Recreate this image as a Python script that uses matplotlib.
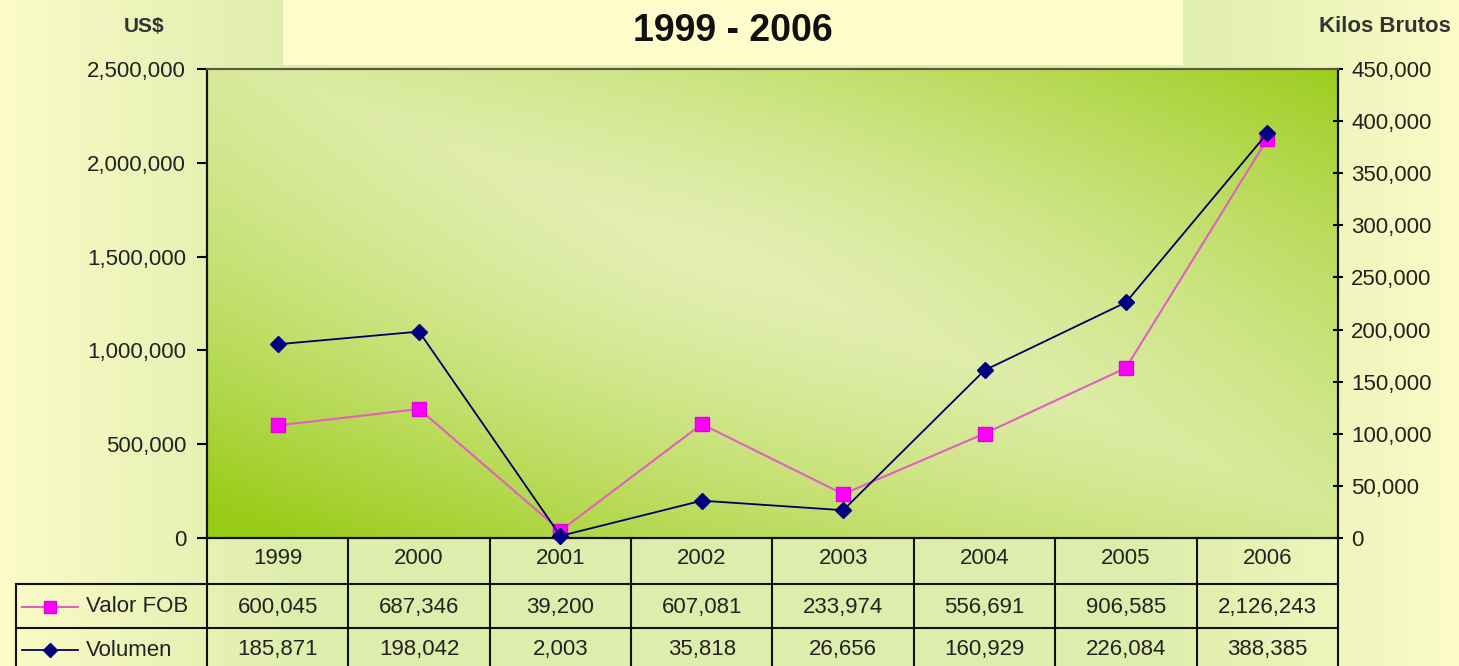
import numpy as np
import matplotlib
matplotlib.use('Agg')
import matplotlib.pyplot as plt
from matplotlib.lines import Line2D
from matplotlib.patches import Rectangle
import matplotlib.transforms as mtransforms
from matplotlib.ticker import FuncFormatter, FixedLocator

# ---- data ----
years = ['1999', '2000', '2001', '2002', '2003', '2004', '2005', '2006']
valor_fob = [600045, 687346, 39200, 607081, 233974, 556691, 906585, 2126243]
volumen = [185871, 198042, 2003, 35818, 26656, 160929, 226084, 388385]
left_ticks = [0, 500000, 1000000, 1500000, 2000000, 2500000]
right_ticks = [0, 50000, 100000, 150000, 200000, 250000, 300000, 350000, 400000, 450000]
series_names = ['Valor FOB', 'Volumen']
title_text = '1999 - 2006'
left_label = 'US$'
right_label = 'Kilos Brutos'

plt.rcParams['font.family'] = ['Liberation Sans', 'DejaVu Sans']

W, H = 1459, 666
fig = plt.figure(figsize=(W / 100, H / 100), dpi=100)

def fx(px):
    return px / W

def fy(py):
    return 1 - py / H

# ---- figure background ----
bg = fig.add_axes([0, 0, 1, 1], zorder=-10)
bg.set_axis_off()
xs = np.arange(W)
d = np.minimum(xs, W - 1 - xs)
f = np.clip(d / 300.0, 0, 1) ** 0.9
yellow = np.array([252, 252, 200]) / 255
green = np.array([222, 237, 172]) / 255
row = yellow[None, :] * (1 - f[:, None]) + green[None, :] * f[:, None]
img = np.repeat(row[None, :, :], 2, axis=0)
bg.imshow(img, extent=[0, 1, 0, 1], aspect='auto', transform=bg.transAxes)
bg.add_patch(Rectangle((fx(283), fy(65)), fx(1183) - fx(283), 65 / H,
                       transform=bg.transAxes, color='#FDFCCA', lw=0))
bg.set_xlim(0, 1)
bg.set_ylim(0, 1)

# ---- main axes ----
ax = fig.add_axes([fx(207), fy(538), fx(1338) - fx(207), (538 - 69) / H])
nx, ny = 300, 150
u = np.linspace(0, 1, nx)[None, :]
v = np.linspace(0, 1, ny)[:, None]
s = np.abs(u + v - 1.05)
r = np.sqrt((u - 0.45) ** 2 + (v - 0.6) ** 2)
s = np.clip(0.75 * s + 0.35 * r, 0, 1) ** 1.3
light = np.array([228, 239, 180]) / 255
dark = np.array([152, 203, 20]) / 255
grad = light[None, None, :] * (1 - s[..., None]) + dark[None, None, :] * s[..., None]
ax.imshow(grad, extent=[0, 1, 0, 1], origin='lower', aspect='auto',
          transform=ax.transAxes, zorder=0)

x = np.arange(len(years))
ax.plot(x, valor_fob, color='#E060C0', lw=1.5, marker='s', ms=10,
        mfc='#FF00FF', mec='#E000E0', zorder=3, clip_on=False)
ax.set_xlim(-0.5, len(years) - 0.5)
ax.set_ylim(0, 2500000)
ax.set_xticks([])

ax2 = ax.twinx()
ax2.plot(x, volumen, color='#000060', lw=1.3, marker='D', ms=8,
         mfc='#000080', mec='#000080', zorder=4, clip_on=False)
ax2.set_ylim(0, 450000)
ax2.set_xlim(-0.5, len(years) - 0.5)

fmt = FuncFormatter(lambda val, pos: '{:,.0f}'.format(val))
ax.yaxis.set_major_locator(FixedLocator(left_ticks))
ax.yaxis.set_major_formatter(fmt)
ax2.yaxis.set_major_locator(FixedLocator(right_ticks))
ax2.yaxis.set_major_formatter(fmt)
ax.tick_params(axis='y', direction='out', length=7, width=1.5, labelsize=16,
               pad=8, labelcolor='#222222')
ax2.tick_params(axis='y', direction='inout', length=7, width=1.5, labelsize=16,
                pad=6, labelcolor='#222222')

for a in (ax, ax2):
    for side in ('left', 'right', 'bottom'):
        a.spines[side].set_linewidth(1.5)
        a.spines[side].set_color('#111111')
    a.spines['top'].set_color('#5a5a40')
    a.spines['top'].set_linewidth(1.5)

# ---- texts ----
fig.text(fx(733), fy(31), title_text, ha='center', va='center',
         fontsize=27, fontweight='bold', color='#111111')
fig.text(fx(144), fy(27), left_label, ha='center', va='center',
         fontsize=15, fontweight='bold', color='#333333')
fig.text(fx(1385), fy(26), right_label, ha='center', va='center',
         fontsize=16, fontweight='bold', color='#333333')

# ---- data table ----
bt = mtransforms.blended_transform_factory(ax.transData, fig.transFigure)
lc = '#111111'
for i in range(len(years) + 1):
    fig.add_artist(Line2D([i - 0.5, i - 0.5], [fy(538), 0], transform=bt,
                          color=lc, lw=1.5))
fig.add_artist(Line2D([fx(16), fx(16)], [fy(584), 0], transform=fig.transFigure,
                      color=lc, lw=1.5))
for yy in (584, 628):
    fig.add_artist(Line2D([fx(16), fx(1338)], [fy(yy), fy(yy)],
                          transform=fig.transFigure, color=lc, lw=1.5))

for i, yr in enumerate(years):
    fig.text(i, fy(559), yr, transform=bt, ha='center', va='center',
             fontsize=16, color='#222222')
    fig.text(i, fy(607), '{:,}'.format(valor_fob[i]), transform=bt,
             ha='center', va='center', fontsize=16, color='#222222')
    fig.text(i, fy(650), '{:,}'.format(volumen[i]), transform=bt,
             ha='center', va='center', fontsize=16, color='#222222')

# legend keys in row labels
fig.add_artist(Line2D([fx(22), fx(78)], [fy(607), fy(607)], transform=fig.transFigure,
                      color='#E060C0', lw=1.5))
fig.add_artist(Line2D([fx(50)], [fy(607)], transform=fig.transFigure, marker='s',
                      ms=9, mfc='#FF00FF', mec='#E000E0', lw=0))
fig.add_artist(Line2D([fx(22), fx(78)], [fy(650), fy(650)], transform=fig.transFigure,
                      color='#000060', lw=1.3))
fig.add_artist(Line2D([fx(50)], [fy(650)], transform=fig.transFigure, marker='D',
                      ms=7, mfc='#000080', mec='#000080', lw=0))
fig.text(fx(86), fy(607), series_names[0], ha='left', va='center', fontsize=16,
         color='#222222')
fig.text(fx(86), fy(650), series_names[1], ha='left', va='center', fontsize=16,
         color='#222222')

fig.savefig('out.png', dpi=100)
